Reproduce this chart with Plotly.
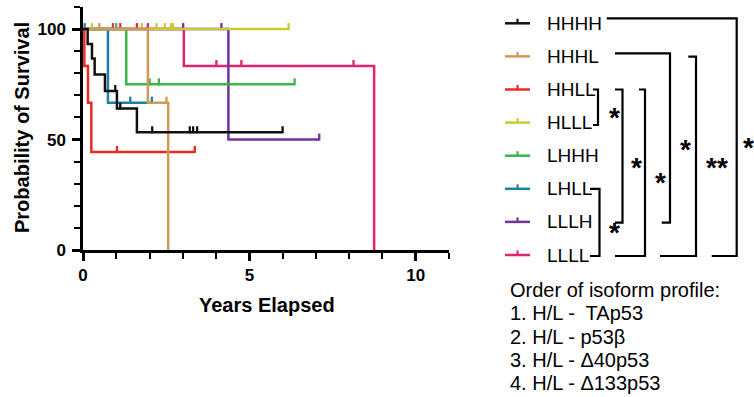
import plotly.graph_objects as go

# ---------------- data ----------------
groups = ["HHHH", "HHHL", "HHLL", "HLLL", "LHHH", "LHLL", "LLLH", "LLLL"]
colors = ["#111111", "#CF9A55", "#EE2A24", "#C9C935", "#3DB54A", "#1F7FA6", "#7232A0", "#DF2370"]

# event (death) times in years and survival (%) after each event
event_times = {
    "HHHH": [0.14, 0.27, 0.35, 0.66, 1.02, 1.62],
    "HHHL": [1.95, 2.56],
    "HHLL": [0.04, 0.15, 0.25],
    "HLLL": [],
    "LHHH": [1.30],
    "LHLL": [0.75],
    "LLLH": [4.37],
    "LLLL": [3.03, 8.75],
}
event_surv = {
    "HHHH": [93.3, 86.7, 79.5, 72.0, 64.0, 53.3],
    "HHHL": [66.7, 0.0],
    "HHLL": [83.3, 66.7, 44.4],
    "HLLL": [],
    "LHHH": [75.0],
    "LHLL": [66.7],
    "LLLH": [50.0],
    "LLLL": [83.3, 0.0],
}
# censored observations (years)
censor_times = {
    "HHHH": [0.97, 1.12, 2.08, 3.21, 3.31, 3.43, 6.00],
    "HHHL": [0.49, 2.51],
    "HHLL": [1.02, 3.36],
    "HLLL": [0.27, 1.77, 2.21, 2.46, 2.64, 2.71, 6.18],
    "LHHH": [1.00, 2.00, 2.28, 6.36],
    "LHLL": [0.05, 1.42, 2.07],
    "LLLH": [3.01, 4.16, 7.10],
    "LLLL": [0.90, 1.12, 1.62, 1.95, 4.01, 4.76, 8.13],
}

x_ticks = [0, 5, 10]
y_ticks = [0, 50, 100]

comparisons = [
    ("HHLL", "HLLL", "*"),
    ("LHLL", "LLLL", "*"),
    ("HHLL", "LLLH", "*"),
    ("HHLL", "LLLL", "*"),
    ("HHHL", "LLLH", "*"),
    ("HHHL", "LLLL", "**"),
    ("HHHH", "LLLL", "*"),
]

isoform_lines = [
    "Order of isoform profile:",
    "1. H/L -\u00a0 TAp53",
    "2. H/L - p53\u03b2",
    "3. H/L - \u039440p53",
    "4. H/L - \u0394133p53",
]

# ---------------- layout constants ----------------
W, H = 754, 397
ML, MR, MT, MB = 83, 305, 7, 147
PW, PH = W - ML - MR, H - MT - MB
XMAX, YMAX = 11, 110
FONT = "Arial, 'Liberation Sans', sans-serif"


def pxx(x):
    return (x - ML) / PW


def pxy(y):
    return 1 - (y - MT) / PH


def surv_at(g, t):
    s = 100.0
    for et, es in zip(event_times[g], event_surv[g]):
        if t >= et:
            s = es
    return s


fig = go.Figure()

tick_up = 2.5 / (PH / YMAX)  # censor tick sits above the line

# draw in reverse so the first group is on top
for g, c in reversed(list(zip(groups, colors))):
    xs = [0.0] + event_times[g]
    ys = [100.0] + event_surv[g]
    last_c = max(censor_times[g]) if censor_times[g] else xs[-1]
    if last_c > xs[-1]:
        xs.append(last_c)
        ys.append(ys[-1])
    fig.add_trace(go.Scatter(
        x=xs, y=ys, mode="lines", line=dict(color=c, width=2.5, shape="hv"),
        name=g, showlegend=False, hoverinfo="skip", cliponaxis=False))
    cx = censor_times[g]
    cy = [surv_at(g, t) + tick_up for t in cx]
    fig.add_trace(go.Scatter(
        x=cx, y=cy, mode="markers", showlegend=False, hoverinfo="skip",
        marker=dict(symbol="line-ns", size=5, color=c, line=dict(color=c, width=2.3)),
        cliponaxis=False))

fig.update_layout(
    width=W, height=H, margin=dict(l=ML, r=MR, t=MT, b=MB),
    paper_bgcolor="white", plot_bgcolor="white",
    font=dict(family=FONT, color="black"),
    xaxis=dict(range=[0, XMAX], tickvals=x_ticks, ticktext=[str(v) for v in x_ticks],
               showgrid=False, zeroline=False, showline=True, linecolor="black", linewidth=2.5,
               ticks="outside", ticklen=8, tickwidth=2.5, tickcolor="black",
               tickfont=dict(size=17, family=FONT, weight="bold"), ticklabelstandoff=0,
               minor=dict(dtick=1, ticks="outside", ticklen=6, tickwidth=2.2, tickcolor="black",
                          showgrid=False)),
    yaxis=dict(range=[0, YMAX], tickvals=y_ticks, ticktext=[str(v) for v in y_ticks],
               showgrid=False, zeroline=False, showline=True, linecolor="black", linewidth=2.5,
               ticks="outside", ticklen=8, tickwidth=2.5, tickcolor="black",
               tickfont=dict(size=17, family=FONT, weight="bold"), ticklabelstandoff=3,
               minor=dict(dtick=10, ticks="outside", ticklen=6, tickwidth=2.2, tickcolor="black",
                          showgrid=False)),
)

annotations = []
shapes = []

# axis titles
annotations.append(dict(text="Years Elapsed", x=pxx(266.5), y=pxy(305), xref="paper", yref="paper",
                        showarrow=False, xanchor="center", yanchor="middle",
                        font=dict(size=20, family=FONT, weight="bold")))
annotations.append(dict(text="Probability of Survival", x=pxx(22), y=pxy(128), xref="paper", yref="paper",
                        showarrow=False, xanchor="center", yanchor="middle", textangle=-90,
                        font=dict(size=20, family=FONT, weight="bold")))

# custom legend
row_y = [23.3 + i * 33.1 for i in range(len(groups))]
for g, c, ry in zip(groups, colors, row_y):
    shapes.append(dict(type="line", xref="paper", yref="paper", x0=pxx(505), x1=pxx(530),
                       y0=pxy(ry), y1=pxy(ry), line=dict(color=c, width=2.5)))
    shapes.append(dict(type="line", xref="paper", yref="paper", x0=pxx(517.5), x1=pxx(517.5),
                       y0=pxy(ry), y1=pxy(ry - 4.5), line=dict(color=c, width=2.2)))
    annotations.append(dict(text=g, x=pxx(545), y=pxy(ry), xref="paper", yref="paper",
                            showarrow=False, xanchor="left", yanchor="middle",
                            font=dict(size=19, family=FONT)))

# significance brackets: (top start x, vertical x, bottom end x, top dy, bottom dy, star x, star y)
bracket_geom = [
    (593, 598, 593, 0, 2.4, 614, 111.7),
    (590, 599.5, 590, 0, 1, 614, 226.7),
    (615, 622.5, 615, 0, 0.8, 636.7, 161),
    (639, 645, 615, 0, 1, 660, 176.7),
    (615, 670, 661.7, -3.1, 0.8, 685, 143.3),
    (688.3, 696, 660, 0.3, 1, 716.7, 161.7),
    (606.7, 736.7, 711.7, -5, 1, 748, 141.7),
]
for (a, b, star), (x0, xv, x2, dt, db, sx, sy) in zip(comparisons, bracket_geom):
    ya = row_y[groups.index(a)] + dt
    yb = row_y[groups.index(b)] + db
    path = (f"M {pxx(x0)},{pxy(ya)} L {pxx(xv)},{pxy(ya)} "
            f"L {pxx(xv)},{pxy(yb)} L {pxx(x2)},{pxy(yb)}")
    shapes.append(dict(type="path", xref="paper", yref="paper", path=path,
                       line=dict(color="black", width=2.2)))
    annotations.append(dict(text=star, x=pxx(sx), y=pxy(sy + 6), xref="paper", yref="paper",
                            showarrow=False, xanchor="center", yanchor="middle",
                            font=dict(size=28, family=FONT, weight="bold")))

# isoform order text
for i, line in enumerate(isoform_lines):
    annotations.append(dict(text=line, x=pxx(508), y=pxy(290 + i * 23.3), xref="paper", yref="paper",
                            showarrow=False, xanchor="left", yanchor="middle",
                            font=dict(size=20, family=FONT)))

fig.update_layout(annotations=annotations, shapes=shapes)
fig.write_html("out.html", config={"displayModeBar": False},
               post_script="document.body.style.margin='0';document.body.style.overflow='hidden';")
